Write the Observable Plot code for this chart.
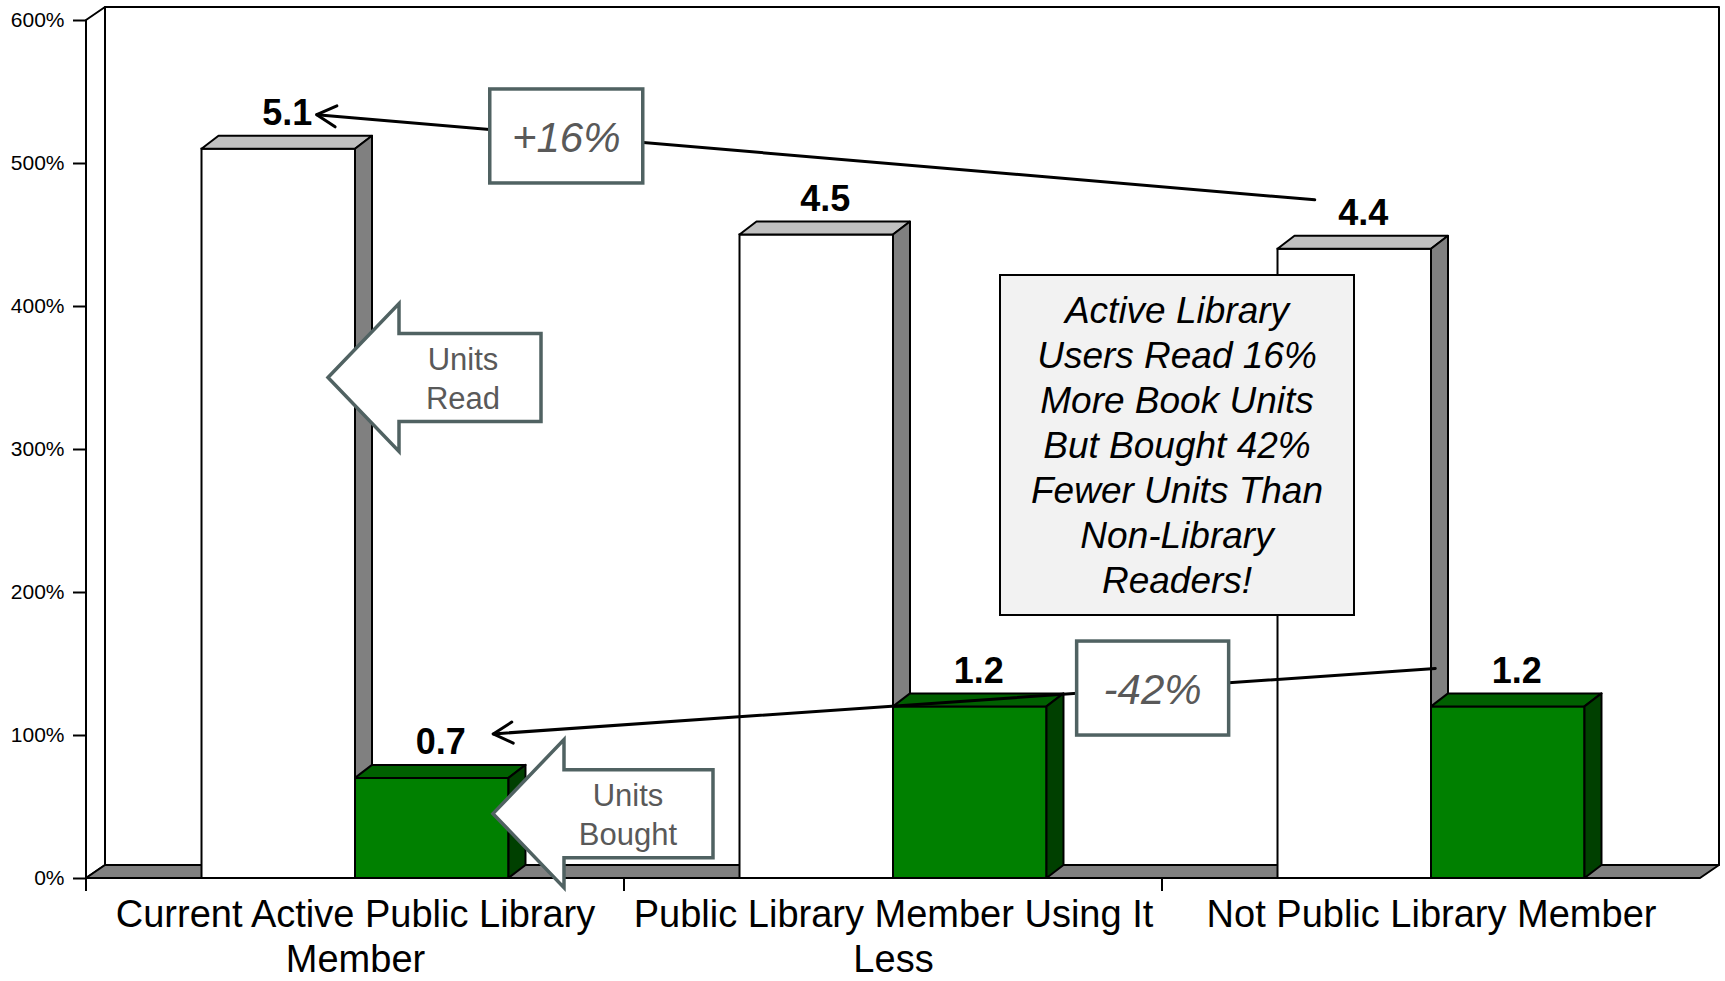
<!DOCTYPE html>
<html>
<head>
<meta charset="utf-8">
<script src="https://cdn.jsdelivr.net/npm/d3@7"></script>
<script src="https://cdn.jsdelivr.net/npm/@observablehq/plot@0.6"></script>
<style>
  html, body { margin: 0; padding: 0; background: #ffffff; }
  #chart svg [aria-label^="y-axis"] path,
  #chart svg [aria-label^="y-axis"] line { stroke-width: 2px; }
</style>
</head>
<body>
<div id="chart"></div>
<script>
// ---------------- data ----------------
const categories = [
  "Current Active Public Library Member",
  "Public Library Member Using It Less",
  "Not Public Library Member"
];
const categoryLabels = [
  "Current Active Public Library\nMember",
  "Public Library Member Using It\nLess",
  "Not Public Library Member"
];
const seriesNames = ["Units Read", "Units Bought"];
const unitsRead = [5.1, 4.5, 4.4];
const unitsBought = [0.7, 1.2, 1.2];
const yTickValues = [0, 1, 2, 3, 4, 5, 6];
const yTickLabels = ["0%", "100%", "200%", "300%", "400%", "500%", "600%"];
const readCallout = "+16%";
const boughtCallout = "-42%";
const blockArrowLabels = [["Units", "Read"], ["Units", "Bought"]];
const noteLines = [
  "Active Library",
  "Users Read 16%",
  "More Book Units",
  "But Bought 42%",
  "Fewer Units Than",
  "Non-Library",
  "Readers!"
];

// ---------------- layout / style ----------------
const W = 1725, H = 981;
const M = {top: 20, right: 25, bottom: 103, left: 86};
const step = (W - M.left - M.right) / categories.length;
const BAR = step * 0.2853;
const GAP0 = (step - 2 * BAR) / 2;
const DXB = 17, DYB = -13;   // bar depth
const DXW = 19, DYW = -13;   // wall depth
const LABEL_GAP = 11;
const FONT = "'Liberation Sans', Arial, Helvetica, sans-serif";
const C = {
  readFront: "#ffffff", readTop: "#c0c0c0", readSide: "#808080",
  boughtFront: "#008000", boughtTop: "#006000", boughtSide: "#004000",
  floor: "#808080", callStroke: "#506262", callText: "#595959", note: "#f2f2f2"
};
const fmt = d3.format(".1f");

const readRows = categories.map((c, i) => ({category: c, series: seriesNames[0], value: unitsRead[i]}));
const boughtRows = categories.map((c, i) => ({category: c, series: seriesNames[1], value: unitsBought[i]}));
const axisRows = categories.map((c, i) => ({category: c, label: categoryLabels[i]}));

const plot = Plot.plot({
  width: W, height: H,
  marginTop: M.top, marginRight: M.right, marginBottom: M.bottom, marginLeft: M.left,
  style: {fontFamily: FONT, fontSize: "21px", background: "white", color: "black", overflow: "visible"},
  x: {domain: categories, padding: 0, round: false, axis: null},
  y: {
    domain: [0, 6], ticks: yTickValues,
    tickFormat: d => yTickLabels[yTickValues.indexOf(d)],
    tickSize: 13, tickPadding: 9, label: null
  },
  marks: [
    Plot.barY(readRows, {
      x: "category", y: "value", fill: C.readFront, stroke: "black", strokeWidth: 2,
      insetLeft: GAP0, insetRight: step - GAP0 - BAR
    }),
    Plot.barY(boughtRows, {
      x: "category", y: "value", fill: C.boughtFront, stroke: "black", strokeWidth: 2,
      insetLeft: GAP0 + BAR, insetRight: GAP0
    }),
    Plot.text(readRows, {
      x: "category", y: "value", text: d => fmt(d.value),
      dx: -BAR / 2 + DXB / 2, dy: DYB - LABEL_GAP, lineAnchor: "bottom",
      fontSize: 36, fontWeight: "bold", fill: "black"
    }),
    Plot.text(boughtRows, {
      x: "category", y: "value", text: d => fmt(d.value),
      dx: BAR / 2 + DXB / 2, dy: DYB - LABEL_GAP, lineAnchor: "bottom",
      fontSize: 36, fontWeight: "bold", fill: "black"
    }),
    Plot.text(axisRows, {
      x: "category", text: "label", frameAnchor: "bottom", lineAnchor: "top",
      dy: 17, fontSize: 38, lineHeight: 1.17, fill: "black"
    })
  ]
});
document.getElementById("chart").append(plot);

// ---------------- 3D decoration from Plot's scales ----------------
const X = plot.scale("x"), Y = plot.scale("y");
const x0 = X.range[0], x1 = X.range[1];
const yb = Y.apply(0), yt = Y.apply(d3.max(yTickValues));
const pts = a => a.map(p => p.join(",")).join(" ");

// walls + floor (behind everything)
const walls = d3.create("svg:g")
  .attr("stroke", "black").attr("stroke-width", 2).attr("stroke-linejoin", "round");
walls.append("rect")
  .attr("x", x0 + DXW).attr("y", yt + DYW).attr("width", x1 - x0).attr("height", yb - yt)
  .attr("fill", "white");
walls.append("polygon")
  .attr("points", pts([[x0, yt], [x0 + DXW, yt + DYW], [x0 + DXW, yb + DYW], [x0, yb]]))
  .attr("fill", "white");
walls.append("polygon")
  .attr("points", pts([[x0, yb], [x1, yb], [x1 + DXW, yb + DYW], [x0 + DXW, yb + DYW]]))
  .attr("fill", C.floor);
walls.append("line").attr("x1", x0).attr("x2", x0).attr("y1", yt).attr("y2", yb);
categories.forEach(c => {
  const bx = X.apply(c);
  walls.append("line").attr("x1", bx).attr("x2", bx).attr("y1", yb).attr("y2", yb + 13);
});
plot.insertBefore(walls.node(), plot.querySelector("g"));

function faces(rows, si, colTop, colSide) {
  const g = d3.create("svg:g")
    .attr("stroke", "black").attr("stroke-width", 2).attr("stroke-linejoin", "round");
  rows.forEach(d => {
    const xl = X.apply(d.category) + GAP0 + si * BAR, xr = xl + BAR, ytp = Y.apply(d.value);
    g.append("polygon")
      .attr("points", pts([[xl, ytp], [xr, ytp], [xr + DXB, ytp + DYB], [xl + DXB, ytp + DYB]]))
      .attr("fill", colTop);
    g.append("polygon")
      .attr("points", pts([[xr, ytp], [xr + DXB, ytp + DYB], [xr + DXB, yb + DYB], [xr, yb]]))
      .attr("fill", colSide);
  });
  return g.node();
}
const barGroups = plot.querySelectorAll('g[aria-label="bar"]');
barGroups[0].after(faces(readRows, 0, C.readTop, C.readSide));
barGroups[1].after(faces(boughtRows, 1, C.boughtTop, C.boughtSide));

// ---------------- annotations ----------------
const ann = d3.select(plot).append("g").attr("font-family", FONT);
const vals = [unitsRead, unitsBought];
function labelPos(ci, si) {
  const xl = X.apply(categories[ci]) + GAP0 + si * BAR;
  return {cx: xl + BAR / 2 + DXB / 2, base: Y.apply(vals[si][ci]) + DYB - LABEL_GAP, xr: xl + BAR};
}
const HALF = 24;

function arrowLine(tip, end) {
  ann.append("line").attr("x1", end[0]).attr("y1", end[1]).attr("x2", tip[0]).attr("y2", tip[1])
    .attr("stroke", "black").attr("stroke-width", 3).attr("stroke-linecap", "round");
  const a = Math.atan2(end[1] - tip[1], end[0] - tip[0]), th = 0.5, L = 22;
  ann.append("polyline")
    .attr("points", pts([
      [tip[0] + L * Math.cos(a - th), tip[1] + L * Math.sin(a - th)],
      tip,
      [tip[0] + L * Math.cos(a + th), tip[1] + L * Math.sin(a + th)]
    ]))
    .attr("fill", "none").attr("stroke", "black").attr("stroke-width", 3)
    .attr("stroke-linecap", "round").attr("stroke-linejoin", "round");
}
function calloutBox(tip, end, t, w, h, text) {
  const cx = tip[0] + t * (end[0] - tip[0]), cy = tip[1] + t * (end[1] - tip[1]);
  ann.append("rect").attr("x", cx - w / 2).attr("y", cy - h / 2).attr("width", w).attr("height", h)
    .attr("fill", "white").attr("stroke", C.callStroke).attr("stroke-width", 3.5);
  ann.append("text").attr("x", cx).attr("y", cy + 16).attr("text-anchor", "middle")
    .attr("font-size", 42).attr("font-style", "italic").attr("fill", C.callText).text(text);
}

// +16% arrow (Units Read, Not member -> Active member)
const r0 = labelPos(0, 0), r2 = labelPos(2, 0);
const tip1 = [r0.cx + HALF + 6, r0.base - 10], end1 = [r2.cx - HALF - 24, r2.base - 25];
arrowLine(tip1, end1);
calloutBox(tip1, end1, 0.25, 153, 94, readCallout);

// -42% arrow (Units Bought)
const b0 = labelPos(0, 1), b2 = labelPos(2, 1);
const tip2 = [b0.cx + HALF + 29, b0.base - 20], end2 = [b2.cx - HALF - 57, b2.base - 14];
arrowLine(tip2, end2);
calloutBox(tip2, end2, 0.70, 152, 94, boughtCallout);

// block arrows
function blockArrow(tx, ty, len, lines) {
  const hl = 71, hh = 74, sh = 44;
  ann.append("polygon")
    .attr("points", pts([
      [tx, ty], [tx + hl, ty - hh], [tx + hl, ty - sh], [tx + len, ty - sh],
      [tx + len, ty + sh], [tx + hl, ty + sh], [tx + hl, ty + hh]
    ]))
    .attr("fill", "white").attr("stroke", C.callStroke).attr("stroke-width", 3.5)
    .attr("stroke-linejoin", "miter");
  lines.forEach((s, i) => {
    ann.append("text").attr("x", tx + 135).attr("y", ty - 8 + i * 39).attr("text-anchor", "middle")
      .attr("font-size", 31).attr("fill", C.callText).text(s);
  });
}
blockArrow(labelPos(0, 0).xr - 27, Y.apply(3.5), 213, blockArrowLabels[0]);
blockArrow(labelPos(0, 1).xr - 15.5, Y.apply(0.45), 220, blockArrowLabels[1]);

// note box
const ncx = X.apply(categories[2]) + 15, ncy = Y.apply(3) - 4;
ann.append("rect").attr("x", ncx - 177).attr("y", ncy - 170).attr("width", 354).attr("height", 340)
  .attr("fill", C.note).attr("stroke", "black").attr("stroke-width", 2);
noteLines.forEach((s, i) => {
  ann.append("text").attr("x", ncx).attr("y", ncy - 122 + i * 45).attr("text-anchor", "middle")
    .attr("font-size", 37).attr("font-style", "italic").attr("fill", "black").text(s);
});
</script>
</body>
</html>
